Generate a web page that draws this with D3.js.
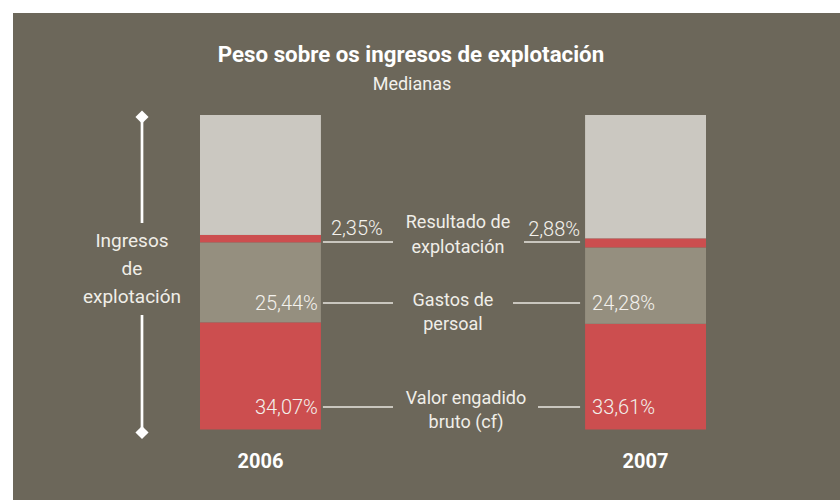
<!DOCTYPE html>
<html>
<head>
<meta charset="utf-8">
<script src="https://cdn.jsdelivr.net/npm/d3@7"></script>
<style>
  body { margin: 0; background: #fff; }
  svg text { font-family: Roboto, "Liberation Sans", sans-serif; }
</style>
</head>
<body>
<div class="chart"></div>
<script>
// DATA ------------------------------
const years = ["2006", "2007"];
const seriesNames = ["Valor engadido bruto (cf)", "Gastos de persoal", "Resultado de explotación", "Resto"];
const valorEngadido = [34.07, 33.61];
const gastosPersoal = [25.44, 24.28];
const resultadoExpl = [2.35, 2.88];
const resto = [38.14, 39.23];
const valueLabels = [["34,07%", "33,61%"], ["25,44%", "24,28%"], ["2,35%", "2,88%"]];

const colors = ["#cc4e4f", "#958f7f", "#cc4e4f", "#cbc8c1"];

const width = 840, height = 500;

const svg = d3.select(".chart")
    .append("svg")
    .attr("width", width)
    .attr("height", height);

// panel
svg.append("rect")
    .attr("x", 13).attr("y", 13)
    .attr("width", width - 13).attr("height", height - 13)
    .attr("fill", "#6c675a");

// title
svg.append("text")
    .attr("x", 411).attr("y", 62)
    .attr("text-anchor", "middle")
    .attr("fill", "#ffffff")
    .style("font-weight", "bold")
    .style("font-size", "22.3px")
    .text("Peso sobre os ingresos de explotación");

svg.append("text")
    .attr("x", 412).attr("y", 90)
    .attr("text-anchor", "middle")
    .attr("fill", "#f3f1ec")
    .style("font-size", "18px")
    .text("Medianas");

// scales
const xScale = d3.scaleBand()
    .domain(years)
    .range([200, 706])
    .paddingInner(0.686)
    .paddingOuter(0);

const yScale = d3.scaleLinear()
    .domain([0, 100])
    .range([429.5, 115]);

// stack
const table = years.map((y, i) => ({
    year: y,
    s0: valorEngadido[i], s1: gastosPersoal[i], s2: resultadoExpl[i], s3: resto[i]
}));
const stack = d3.stack().keys(["s0", "s1", "s2", "s3"])(table);

svg.append("g")
    .selectAll("g")
    .data(stack)
    .enter()
    .append("g")
    .attr("fill", (d, i) => colors[i])
    .selectAll("rect")
    .data(d => d)
    .enter()
    .append("rect")
    .attr("x", d => xScale(d.data.year))
    .attr("y", d => yScale(d[1]))
    .attr("width", xScale.bandwidth())
    .attr("height", d => yScale(d[0]) - yScale(d[1]));

// year labels
svg.selectAll(".year")
    .data(years)
    .enter()
    .append("text")
    .attr("class", "year")
    .attr("x", d => xScale(d) + xScale.bandwidth() / 2)
    .attr("y", 468)
    .attr("text-anchor", "middle")
    .attr("fill", "#ffffff")
    .style("font-weight", "bold")
    .style("font-size", "20px")
    .text(d => d);

// label rows: line y, centre of the text block, text baselines
const rows = [
    {lineY: 407, cx: 466, lines: ["Valor engadido", "bruto (cf)"], textY: [404, 428], left2007: 538},
    {lineY: 303, cx: 453, lines: ["Gastos de", "persoal"], textY: [306, 330], left2007: 513},
    {lineY: 242, cx: 458, lines: ["Resultado de", "explotación"], textY: [228, 253], left2007: 524}
];

const x06 = xScale("2006") + xScale.bandwidth();
const x07 = xScale("2007");

rows.forEach((r, i) => {
    // leader lines
    svg.append("line")
        .attr("x1", x06 + 2).attr("x2", 393)
        .attr("y1", r.lineY).attr("y2", r.lineY)
        .attr("stroke", "#e8e6e0").attr("stroke-width", 1.3);
    svg.append("line")
        .attr("x1", r.left2007).attr("x2", x07 - 5)
        .attr("y1", r.lineY).attr("y2", r.lineY)
        .attr("stroke", "#e8e6e0").attr("stroke-width", 1.3);

    // category text
    r.lines.forEach((t, j) => {
        svg.append("text")
            .attr("x", r.cx).attr("y", r.textY[j])
            .attr("text-anchor", "middle")
            .attr("fill", "#f0eee8")
            .style("font-size", "18px")
            .text(t);
    });

    // values
    const v = valueLabels[i];
    if (i === 2) {
        svg.append("text")
            .attr("x", x06 + 10).attr("y", r.lineY - 7)
            .attr("fill", "#f3f1ec")
            .style("font-size", "20px").style("font-weight", 300)
            .text(v[0]);
        svg.append("text")
            .attr("x", x07 - 5).attr("y", r.lineY - 6)
            .attr("text-anchor", "end")
            .attr("fill", "#f3f1ec")
            .style("font-size", "20px").style("font-weight", 300)
            .text(v[1]);
    } else {
        svg.append("text")
            .attr("x", x06 - 3).attr("y", r.lineY + 7)
            .attr("text-anchor", "end")
            .attr("fill", "#f3f1ec")
            .style("font-size", "20px").style("font-weight", 300)
            .text(v[0]);
        svg.append("text")
            .attr("x", x07 + 7).attr("y", r.lineY + 7)
            .attr("fill", "#f3f1ec")
            .style("font-size", "20px").style("font-weight", 300)
            .text(v[1]);
    }
});

// left measure bar
const ax = 142;
svg.append("line")
    .attr("x1", ax).attr("x2", ax)
    .attr("y1", yScale(100) + 2).attr("y2", 223)
    .attr("stroke", "#ffffff").attr("stroke-width", 2.7);
svg.append("line")
    .attr("x1", ax).attr("x2", ax)
    .attr("y1", 315).attr("y2", yScale(0) + 3)
    .attr("stroke", "#ffffff").attr("stroke-width", 2.7);
[yScale(100) + 2, yScale(0) + 3].forEach(y => {
    svg.append("path")
        .attr("d", d3.symbol(d3.symbolDiamond2, 110)())
        .attr("transform", `translate(${ax},${y})`)
        .attr("fill", "#ffffff");
});

["Ingresos", "de", "explotación"].forEach((t, j) => {
    svg.append("text")
        .attr("x", 132).attr("y", [247, 275, 303][j])
        .attr("text-anchor", "middle")
        .attr("fill", "#f0eee8")
        .style("font-size", "19px")
        .text(t);
});
</script>
</body>
</html>
